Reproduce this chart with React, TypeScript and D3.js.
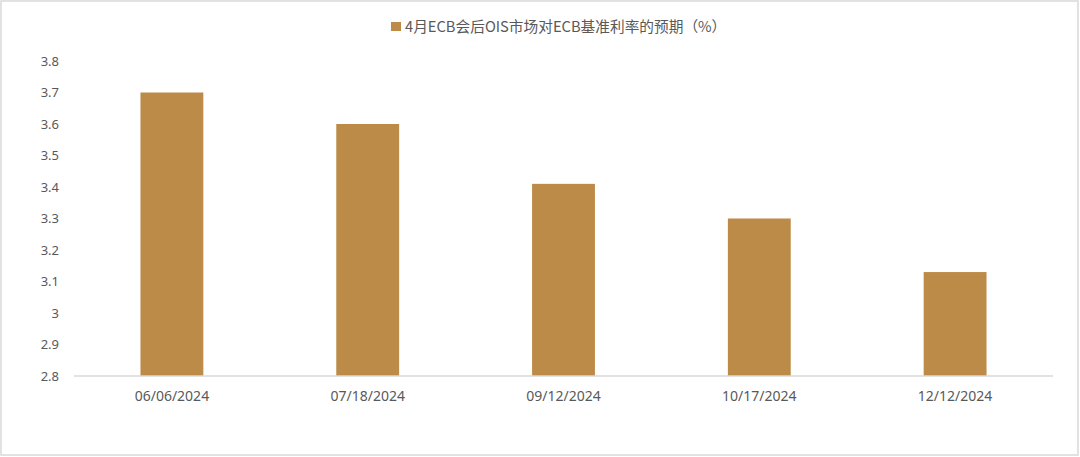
import React, { useEffect, useRef } from 'react';
import * as d3 from 'd3';

// data
const dates = ['06/06/2024', '07/18/2024', '09/12/2024', '10/17/2024', '12/12/2024'];
const rates = [3.7, 3.6, 3.41, 3.3, 3.13];
const yTicks = [2.8, 2.9, 3.0, 3.1, 3.2, 3.3, 3.4, 3.5, 3.6, 3.7, 3.8];
const yTickLabels = ['2.8', '2.9', '3', '3.1', '3.2', '3.3', '3.4', '3.5', '3.6', '3.7', '3.8'];
const legendLabel = '4月ECB会后OIS市场对ECB基准利率的预期（%）';

const W = 1080;
const H = 457;
const BAR = '#bc8b48';
const TXT = '#595959';
const FONT = '"Noto Sans", "Noto Sans CJK SC", sans-serif';

const App: React.FC = () => {
  const svgRef = useRef<SVGSVGElement>(null);

  useEffect(() => {
    if (!svgRef.current) return;
    const svg = d3.select(svgRef.current);
    svg.selectAll('*').remove();

    const margin = { left: 74, right: 27, top: 61, bottom: 81 };

    const x = d3.scaleBand<string>()
      .domain(dates)
      .range([margin.left, W - margin.right])
      .paddingInner(0.679)
      .paddingOuter(0.3395);

    const y = d3.scaleLinear()
      .domain([2.8, 3.8])
      .range([H - margin.bottom, margin.top]);

    // outer frame
    svg.append('rect')
      .attr('x', 1).attr('y', 1)
      .attr('width', W - 3).attr('height', H - 3)
      .attr('fill', '#fff')
      .attr('stroke', '#d9d9d9')
      .attr('stroke-width', 1.5);

    // legend
    const lg = svg.append('g');
    lg.append('rect')
      .attr('x', 391).attr('y', 22)
      .attr('width', 10).attr('height', 9)
      .attr('fill', BAR);
    lg.append('text')
      .attr('x', 405).attr('y', 27)
      .attr('dy', '0.35em')
      .attr('fill', TXT)
      .style('font-family', '"Noto Sans CJK SC", sans-serif')
      .style('font-size', '14.7px')
      .text(legendLabel);

    // bars
    svg.selectAll('rect.bar')
      .data(rates)
      .enter().append('rect')
      .attr('class', 'bar')
      .attr('x', (d, i) => x(dates[i]) || 0)
      .attr('y', d => y(d))
      .attr('width', x.bandwidth())
      .attr('height', d => y(2.8) - y(d))
      .attr('fill', BAR);

    // baseline
    svg.append('line')
      .attr('x1', margin.left).attr('x2', W - margin.right)
      .attr('y1', y(2.8)).attr('y2', y(2.8))
      .attr('stroke', '#d9d9d9')
      .attr('stroke-width', 1.5);

    // y labels
    svg.selectAll('text.ytick')
      .data(yTicks)
      .enter().append('text')
      .attr('class', 'ytick')
      .attr('x', 59)
      .attr('y', d => y(d))
      .attr('dy', '0.35em')
      .attr('text-anchor', 'end')
      .attr('fill', TXT)
      .style('font-family', FONT)
      .style('font-size', '13px')
      .text((d, i) => yTickLabels[i]);

    // x labels
    svg.selectAll('text.xtick')
      .data(dates)
      .enter().append('text')
      .attr('class', 'xtick')
      .attr('x', d => (x(d) || 0) + x.bandwidth() / 2)
      .attr('y', y(2.8) + 20)
      .attr('dy', '0.35em')
      .attr('text-anchor', 'middle')
      .attr('fill', TXT)
      .style('font-family', FONT)
      .style('font-size', '14px')
      .text(d => d);
  }, []);

  return (
    <div style={{ position: 'absolute', left: 0, top: 0, width: W, height: H, background: '#fff' }}>
      <svg ref={svgRef} width={W} height={H} style={{ display: 'block' }} />
    </div>
  );
};

export default App;
